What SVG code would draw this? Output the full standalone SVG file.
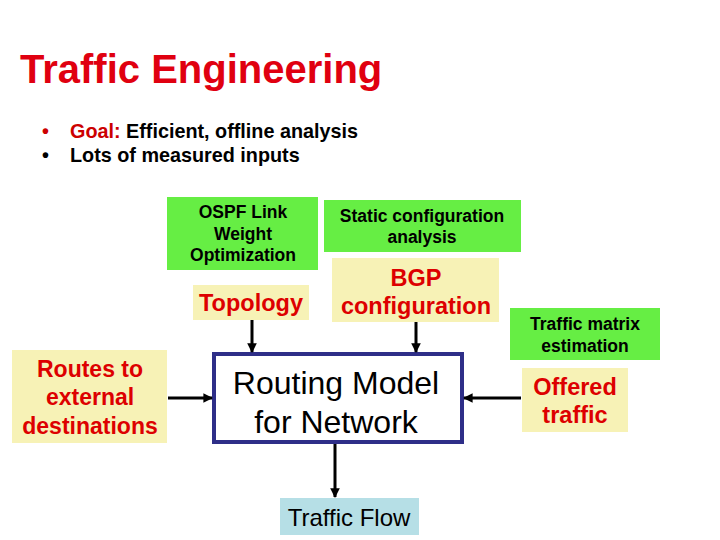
<svg xmlns="http://www.w3.org/2000/svg" width="720" height="540" viewBox="0 0 720 540">
<defs>
<style>
.t{font-family:"Liberation Sans",Arial,sans-serif;text-anchor:middle}
.b{font-weight:bold}
.grn{fill:#66ee44}
.yel{fill:#f7f2b6}
.red{fill:#dd0000}
.line{stroke:#000;stroke-width:3;fill:none}
</style>
<marker id="ah" viewBox="0 0 10 10" refX="9" refY="5" markerWidth="3.2" markerHeight="3.2" orient="auto" markerUnits="strokeWidth">
<path d="M0,0 L10,5 L0,10 z" fill="#000"/>
</marker>
</defs>
<rect width="720" height="540" fill="#fff"/>
<g id="title">
<text x="20" y="83" font-family="'Liberation Sans',Arial,sans-serif" font-weight="bold" font-size="40" fill="#e00010">Traffic Engineering</text>
</g>
<g id="bullets" font-family="'Liberation Sans',Arial,sans-serif" font-weight="bold" font-size="19.8">
<text x="42" y="138" fill="#cc0000">•</text>
<text x="70" y="138"><tspan fill="#cc0000">Goal:</tspan> Efficient, offline analysis</text>
<text x="42" y="162">•</text>
<text x="70" y="162">Lots of measured inputs</text>
</g>
<g id="ospf">
<rect class="grn" x="167" y="197" width="151" height="73"/>
<text class="t b" font-size="17.5"><tspan x="243" y="218">OSPF Link</tspan><tspan x="243" y="240">Weight</tspan><tspan x="243" y="261">Optimization</tspan></text>
</g>
<g id="static">
<rect class="grn" x="324" y="200" width="197" height="52"/>
<text class="t b" font-size="17.5"><tspan x="422" y="222">Static configuration</tspan><tspan x="422" y="243">analysis</tspan></text>
</g>
<g id="topology">
<rect class="yel" x="193" y="285" width="116" height="35"/>
<text class="t b red" font-size="23.5" x="251" y="311">Topology</text>
</g>
<g id="bgp">
<rect class="yel" x="332" y="258" width="167" height="64"/>
<text class="t b red" font-size="23.5"><tspan x="416" y="286">BGP</tspan><tspan x="416" y="314">configuration</tspan></text>
</g>
<g id="tm">
<rect class="grn" x="510" y="308" width="150" height="52"/>
<text class="t b" font-size="17.5"><tspan x="585" y="330">Traffic matrix</tspan><tspan x="585" y="352">estimation</tspan></text>
</g>
<g id="offered">
<rect class="yel" x="522" y="368" width="106" height="64"/>
<text class="t b red" font-size="23.5"><tspan x="575" y="395">Offered</tspan><tspan x="575" y="423">traffic</tspan></text>
</g>
<g id="routes">
<rect class="yel" x="12" y="350" width="155" height="93"/>
<text class="t b red" font-size="23"><tspan x="90" y="377">Routes to</tspan><tspan x="90" y="405">external</tspan><tspan x="90" y="434">destinations</tspan></text>
</g>
<g id="routing">
<rect x="214" y="354" width="248" height="88" fill="#fff" stroke="#2e2e88" stroke-width="4"/>
<text class="t" font-size="32"><tspan x="336" y="394">Routing Model</tspan><tspan x="336" y="433">for Network</tspan></text>
</g>
<g id="flow">
<rect x="280" y="498" width="139" height="37" fill="#b6dfe6"/>
<text class="t" font-size="24" x="349" y="526">Traffic Flow</text>
</g>
<g id="connectors">
<line class="line" x1="252" y1="320" x2="252" y2="352" marker-end="url(#ah)"/>
<line class="line" x1="416" y1="322" x2="416" y2="352" marker-end="url(#ah)"/>
<line class="line" x1="168" y1="398" x2="212" y2="398" marker-end="url(#ah)"/>
<line class="line" x1="521" y1="398" x2="464" y2="398" marker-end="url(#ah)"/>
<line class="line" x1="335" y1="444" x2="335" y2="497" marker-end="url(#ah)"/>
</g>
</svg>
